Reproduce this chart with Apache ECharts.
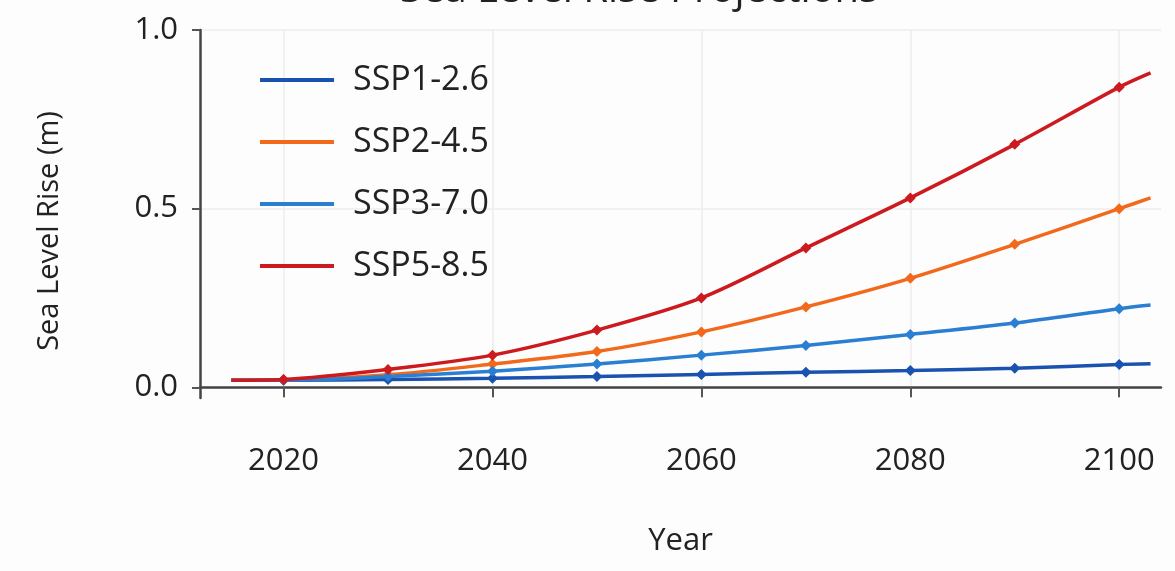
<!DOCTYPE html>
<html><head><meta charset="utf-8">
<script src="https://cdn.jsdelivr.net/npm/echarts@6/dist/echarts.min.js"></script>
<style>html,body{margin:0;padding:0;background:#fff}#c{width:1175px;height:571px}</style>
</head><body><div id="c"></div>
<script>
const years = [2015, 2020, 2030, 2040, 2050, 2060, 2070, 2080, 2090, 2100, 2103];
const ssp126 = [0.02, 0.02, 0.022, 0.025, 0.03, 0.036, 0.042, 0.047, 0.053, 0.064, 0.066];
const ssp245 = [0.02, 0.021, 0.035, 0.065, 0.10, 0.155, 0.225, 0.305, 0.40, 0.50, 0.53];
const ssp370 = [0.02, 0.02, 0.03, 0.045, 0.065, 0.09, 0.117, 0.148, 0.18, 0.22, 0.23];
const ssp585 = [0.02, 0.022, 0.05, 0.09, 0.16, 0.25, 0.39, 0.53, 0.68, 0.84, 0.88];
const xTicks = [2020, 2040, 2060, 2080, 2100];
const yTicks = [0, 0.5, 1.0];
const names = ['SSP1-2.6', 'SSP2-4.5', 'SSP3-7.0', 'SSP5-8.5'];
const colors = ['#1a52b0', '#f2691c', '#2b7fd3', '#cc1a1f'];
const seriesData = [ssp126, ssp245, ssp370, ssp585];

const font = '"Open Sans", "Noto Sans", sans-serif';
const chart = echarts.init(document.getElementById('c'));
chart.setOption({
  animation: false,
  backgroundColor: '#fdfdfd',
  title: { text: 'Sea Level Rise Projections', left: 395, top: -34,
    textStyle: { fontFamily: font, fontSize: 40, fontWeight: 'normal', color: '#222' } },
  grid: { left: 200, right: 14, top: 30, bottom: 173 },
  legend: {
    orient: 'vertical', left: 255, top: 58, itemWidth: 74, itemHeight: 4, itemGap: 28,
    icon: 'rect', data: names,
    textStyle: { fontFamily: font, fontSize: 34, color: '#222', padding: [0, 0, 0, 14] }
  },
  xAxis: {
    type: 'value', min: 2012, max: 2104,
    name: 'Year', nameLocation: 'middle', nameGap: 128,
    nameTextStyle: { fontFamily: font, fontSize: 31, color: '#222' },
    axisLine: { lineStyle: { color: '#444', width: 2.5 } },
    axisTick: { show: true, length: 10, lineStyle: { color: '#555', width: 2 }, customValues: xTicks },
    axisLabel: { customValues: xTicks, margin: 48, fontFamily: font, fontSize: 31, color: '#222', formatter: v => String(v) },
    splitLine: { show: true, lineStyle: { color: '#ececec', width: 1.5 } }
  },
  yAxis: {
    type: 'value', min: -0.03, max: 1.0,
    name: 'Sea Level Rise (m)', nameLocation: 'middle', nameGap: 136, nameRotate: 90,
    nameTextStyle: { fontFamily: font, fontSize: 29, color: '#222', padding: [0, 34, 0, 0] },
    axisLine: { show: true, lineStyle: { color: '#444', width: 2.5 } },
    axisTick: { show: true, length: 8, lineStyle: { color: '#555', width: 2 }, customValues: yTicks },
    axisLabel: { customValues: yTicks, margin: 22, fontFamily: font, fontSize: 31, color: '#222', formatter: v => v.toFixed(1) },
    splitLine: { show: true, lineStyle: { color: '#ececec', width: 1.5 } }
  },
  series: seriesData.map((d, i) => ({
    name: names[i], type: 'line', smooth: 0.3,
    data: years.map((y, j) => [y, d[j]]),
    symbol: 'diamond', symbolSize: (v, p) => (p.dataIndex === 0 || p.dataIndex === years.length - 1) ? 0 : 11,
    lineStyle: { color: colors[i], width: 3.5 },
    itemStyle: { color: colors[i] },
    z: i === 3 ? 5 : 3
  }))
});
</script></body></html>
